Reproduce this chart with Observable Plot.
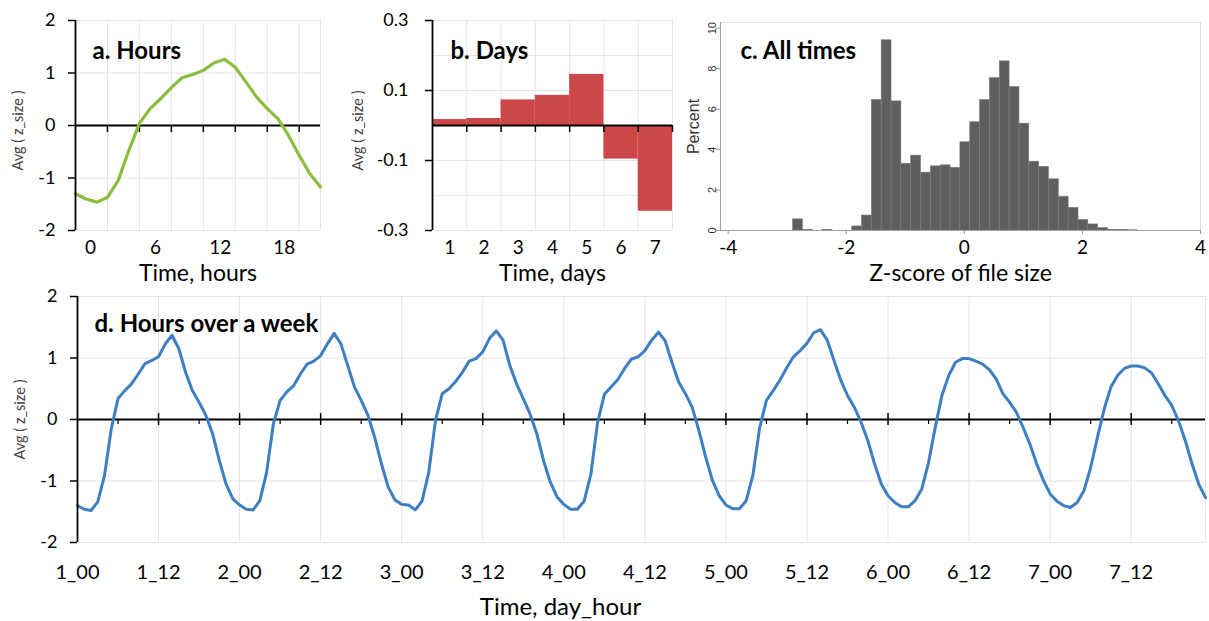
<!DOCTYPE html>
<html><head><meta charset="utf-8">
<script src="https://cdn.jsdelivr.net/npm/d3@7"></script>
<script src="https://cdn.jsdelivr.net/npm/@observablehq/plot@0.6"></script>
<style>
body{margin:0;background:#fff;}
#wrap{position:relative;width:1209px;height:621px;overflow:hidden;background:#fff;}
#wrap > svg{position:absolute;overflow:visible;}
</style></head><body><div id="wrap"></div>
<script>
// ---------- data ----------
// a. Hours
const hourIndex = [0,1,2,3,4,5,6,7,8,9,10,11,12,13,14,15,16,17,18,19,20,21,22,23];
const hourValues = [-1.30,-1.40,-1.46,-1.37,-1.05,-0.48,0.04,0.32,0.51,0.72,0.91,0.97,1.05,1.19,1.26,1.11,0.83,0.54,0.32,0.13,-0.19,-0.57,-0.92,-1.17];
const hourTickPos = [1.4, 7.5, 13.6, 19.6];
const hourTickLabels = ["0","6","12","18"];
const hourGrid = [3,6,9,12,15,18,21];

// b. Days
const days = [1,2,3,4,5,6,7];
const dayValues = [0.017,0.020,0.073,0.086,0.146,-0.096,-0.245];
const dayTicksY = [-0.3,-0.1,0.1,0.3];
const dayGridY = [-0.3,-0.2,-0.1,0.1,0.2,0.3];

// c. All times (histogram, bin lower edges and percents)
const zBinStarts = [-2.9,-2.733,-2.567,-2.4,-2.233,-2.067,-1.9,-1.733,-1.567,-1.4,-1.233,-1.067,-0.9,-0.733,-0.567,-0.4,-0.233,-0.067,0.1,0.267,0.433,0.6,0.767,0.933,1.1,1.267,1.433,1.6,1.767,1.933,2.1,2.267,2.433,2.6,2.767];
const zBinWidth = 1/6;
const zPercent = [0.55,0.03,0,0.03,0,0,0.2,0.74,6.45,9.4,6.38,3.3,3.7,2.86,3.17,3.22,3.1,4.36,5.35,6.45,7.53,8.36,7.09,5.28,3.4,3.15,2.53,1.67,1.12,0.52,0.3,0.12,0.03,0.02,0.01];
const zTicksX = [-4,-2,0,2,4];
const zTicksY = [0,2,4,6,8,10];

// d. Hours over a week (hour index 0..167)
const weekValues = [
 -1.40,-1.46,-1.48,-1.34,-0.91,-0.15,0.34,0.47,0.58,0.74,0.91,0.96,1.02,1.23,1.37,1.15,0.77,0.47,0.28,0.07,-0.23,-0.67,-1.05,-1.29,
 -1.39,-1.46,-1.47,-1.32,-0.86,-0.07,0.31,0.45,0.55,0.74,0.90,0.95,1.04,1.23,1.40,1.23,0.88,0.53,0.31,0.07,-0.29,-0.72,-1.10,-1.31,
 -1.38,-1.39,-1.47,-1.33,-0.86,-0.02,0.42,0.50,0.62,0.77,0.95,0.99,1.10,1.32,1.44,1.29,0.88,0.58,0.34,0.09,-0.23,-0.67,-1.02,-1.26,
 -1.38,-1.46,-1.46,-1.33,-0.89,-0.05,0.41,0.53,0.65,0.83,0.98,1.02,1.12,1.29,1.42,1.28,0.93,0.61,0.42,0.20,-0.18,-0.61,-0.99,-1.24,
 -1.39,-1.45,-1.45,-1.32,-0.90,-0.13,0.31,0.47,0.64,0.84,1.02,1.12,1.24,1.41,1.46,1.29,0.96,0.64,0.39,0.20,-0.04,-0.34,-0.72,-1.05,
 -1.24,-1.35,-1.42,-1.42,-1.32,-1.13,-0.70,-0.12,0.40,0.72,0.93,0.99,0.99,0.95,0.90,0.81,0.66,0.42,0.28,0.12,-0.13,-0.40,-0.72,-0.99,
 -1.21,-1.33,-1.40,-1.43,-1.35,-1.16,-0.78,-0.29,0.17,0.53,0.72,0.83,0.87,0.87,0.84,0.76,0.58,0.39,0.23,-0.02,-0.34,-0.72,-1.05,-1.27
];
const weekTickPos = [0,12,24,36,48,60,72,84,96,108,120,132,144,156];
const weekTickLabels = ["1_00","1_12","2_00","2_12","3_00","3_12","4_00","4_12","5_00","5_12","6_00","6_12","7_00","7_12"];
const weekLast = 167;
const avgTicks = [-2,-1,0,1,2];
const avgGrid = [-2,-1,1,2];

// ---------- styles ----------
const FONT = "Lato, 'Open Sans', sans-serif";
const ARIAL = "'Liberation Sans', Arial, sans-serif";
const GRID = "#e4e4e4";
const baseStyle = {fontFamily: FONT, color: "black", background: "transparent", overflow: "visible"};
const wrap = document.getElementById("wrap");
function place(svg, left, top) { svg.style.left = left + "px"; svg.style.top = top + "px"; wrap.appendChild(svg); }
const str = d => String(d);
const TITLE = 24, AXT = 23, AXDY = 50, YLAB = 14.5, TICKX = 19;
const ylab = (dx, dy) => Plot.text(["Avg ( z_size )"], {frameAnchor: "left", textAnchor: "middle", lineAnchor: "middle", dx, dy, rotate: -90, fontSize: YLAB, fill: "#404040"});

// ---------- a. Hours ----------
const hourData = hourIndex.map((h, i) => ({h, v: hourValues[i]}));
place(Plot.plot({
  width: 340, height: 290, marginLeft: 75, marginRight: 20, marginTop: 20, marginBottom: 60,
  x: {domain: [hourIndex[0], hourIndex[hourIndex.length - 1]]}, y: {domain: [-2, 2]},
  style: baseStyle,
  marks: [
    Plot.gridY(avgGrid, {stroke: GRID, strokeOpacity: 1}),
    Plot.gridX([...hourGrid, hourIndex[hourIndex.length - 1]], {stroke: GRID, strokeOpacity: 1}),
    Plot.ruleY([0], {stroke: "black", strokeWidth: 1.8}),
    Plot.ruleX(hourGrid, {y1: 0, y2: 0, insetBottom: -7, stroke: "black", strokeWidth: 1.5}),
    Plot.line(hourData, {x: "h", y: "v", stroke: "#8dbd3e", strokeWidth: 3.2}),
    Plot.ruleX([hourIndex[0]], {stroke: "black", strokeWidth: 1.8}),
    Plot.axisY(avgTicks, {tickSize: 7, tickPadding: 13, fontSize: 18, strokeWidth: 1.5, tickFormat: str, label: null}),
    Plot.axisX(hourTickPos, {tickSize: 0, tickPadding: 10, fontSize: TICKX, tickFormat: d => hourTickLabels[hourTickPos.indexOf(d)], label: null}),
    Plot.text(["Time, hours"], {frameAnchor: "bottom", dy: AXDY, fontSize: AXT}),
    ylab(-57, 5),
    Plot.text(["a. Hours"], {frameAnchor: "top-left", textAnchor: "start", dx: 17, dy: 21, fontSize: TITLE, fontWeight: "bold"})
  ]
}), 0, 0);

// ---------- b. Days ----------
const dayData = days.map((d, i) => ({day: d, v: dayValues[i]}));
const dayBounds = days.map(d => d + 0.5);
place(Plot.plot({
  width: 345, height: 290, marginLeft: 92, marginRight: 13, marginTop: 20, marginBottom: 60,
  x: {domain: [days[0] - 0.5, days[days.length - 1] + 0.5]}, y: {domain: [-0.3, 0.3]},
  style: baseStyle,
  marks: [
    Plot.gridY(dayGridY, {stroke: GRID, strokeOpacity: 1}),
    Plot.gridX(dayBounds, {stroke: GRID, strokeOpacity: 1}),
    Plot.rectY(dayData, {x1: d => d.day - 0.5, x2: d => d.day + 0.5, y1: 0, y2: "v", fill: "#cc4848"}),
    Plot.ruleY([0], {stroke: "black", strokeWidth: 1.8}),
    Plot.ruleX(dayBounds, {y1: 0, y2: 0, insetBottom: -7, stroke: "black", strokeWidth: 1.5}),
    Plot.ruleX([days[0] - 0.5], {stroke: "black", strokeWidth: 1.8}),
    Plot.axisY(dayTicksY, {tickSize: 7, tickPadding: 17, fontSize: 18, strokeWidth: 1.5, tickFormat: d => d.toFixed(1), label: null}),
    Plot.axisX(days, {tickSize: 0, tickPadding: 10, fontSize: TICKX, tickFormat: str, label: null}),
    Plot.text(["Time, days"], {frameAnchor: "bottom", dy: AXDY, fontSize: AXT}),
    ylab(-74, 5),
    Plot.text(["b. Days"], {frameAnchor: "top-left", textAnchor: "start", dx: 18, dy: 21, fontSize: TITLE, fontWeight: "bold"})
  ]
}), 340, 0);

// ---------- c. All times ----------
const zDomain = [-4.13, 4.0];
const zData = zBinStarts.map((x0, i) => ({x0, p: zPercent[i]})).filter(d => d.p > 0);
place(Plot.plot({
  width: 524, height: 290, marginLeft: 35, marginRight: 9, marginTop: 22, marginBottom: 60,
  x: {domain: zDomain}, y: {domain: [0, 10.28]},
  style: baseStyle,
  marks: [
    Plot.frame({stroke: "#dcdcdc"}),
    Plot.rectY(zData, {x1: "x0", x2: d => d.x0 + zBinWidth, y: "p", fill: "#5f5f5f", stroke: "#7a7a7a", strokeWidth: 0.6}),
    Plot.ruleY([0], {stroke: "#a0a0a0", strokeWidth: 1}),
    Plot.ruleX([zDomain[0]], {stroke: "#a0a0a0", strokeWidth: 1}),
    Plot.axisY(zTicksY, {tickSize: 4, tickPadding: 4, tickRotate: -90, textAnchor: "middle", lineAnchor: "middle", fontSize: 11, fontFamily: ARIAL, fill: "#333", stroke: "#999", tickFormat: str, label: null}),
    Plot.axisX(zTicksX, {tickSize: 4, tickPadding: 6, fontSize: TICKX, stroke: "#999", tickFormat: str, label: null}),
    Plot.text(["Z-score of file size"], {frameAnchor: "bottom", dy: AXDY, fontSize: AXT}),
    Plot.text(["Percent"], {frameAnchor: "left", textAnchor: "middle", lineAnchor: "middle", dx: -27, rotate: -90, fontSize: 16, fontFamily: ARIAL, fill: "#333"}),
    Plot.text(["c. All times"], {frameAnchor: "top-left", textAnchor: "start", dx: 20, dy: 19, fontSize: TITLE, fontWeight: "bold"})
  ]
}), 685, 0);

// ---------- d. Hours over a week ----------
const weekData = weekValues.map((v, n) => ({n, v}));
place(Plot.plot({
  width: 1209, height: 341, marginLeft: 77, marginRight: 4, marginTop: 16, marginBottom: 79,
  x: {domain: [0, weekLast]}, y: {domain: [-2, 2]},
  style: baseStyle,
  marks: [
    Plot.gridY(avgGrid, {stroke: GRID, strokeOpacity: 1}),
    Plot.gridX([...weekTickPos.slice(1), weekLast], {stroke: GRID, strokeOpacity: 1}),
    Plot.ruleY([0], {stroke: "black", strokeWidth: 1.8}),
    Plot.ruleX(weekTickPos.slice(1), {y1: 0, y2: 0, insetTop: -6, insetBottom: -6, stroke: "black", strokeWidth: 1.5}),
    Plot.ruleX(weekTickPos.map(d => d + 6), {y1: 0, y2: 0, insetBottom: -5, stroke: "black", strokeWidth: 1.2}),
    Plot.line(weekData, {x: "n", y: "v", stroke: "#3d7fc1", strokeWidth: 3}),
    Plot.ruleX([0], {stroke: "black", strokeWidth: 1.8}),
    Plot.axisY(avgTicks, {tickSize: 7, tickPadding: 13, fontSize: 18, strokeWidth: 1.5, tickFormat: str, label: null}),
    Plot.axisX(weekTickPos, {tickSize: 0, tickPadding: 22, fontSize: 20, tickFormat: d => weekTickLabels[weekTickPos.indexOf(d)], label: null}),
    Plot.text(["Time, day_hour"], {frameAnchor: "bottom", dx: -81, dy: 72, fontSize: 24}),
    ylab(-57, 0),
    Plot.text(["d. Hours over a week"], {frameAnchor: "top-left", textAnchor: "start", dx: 17, dy: 18, fontSize: TITLE, fontWeight: "bold"})
  ]
}), 0, 280);
</script></body></html>
